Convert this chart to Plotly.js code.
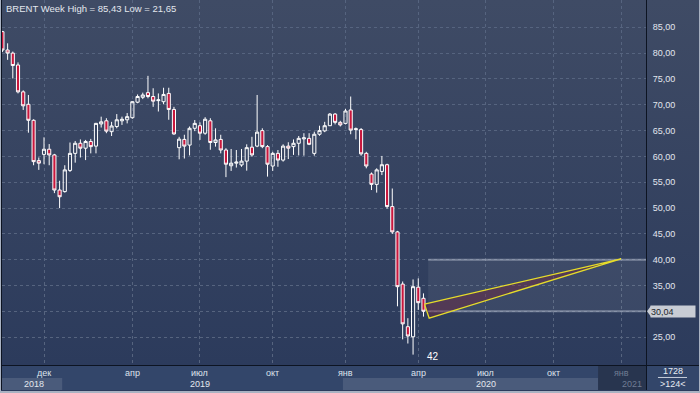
<!DOCTYPE html>
<html><head><meta charset="utf-8">
<script src="https://cdn.plot.ly/plotly-3.0.1.min.js"></script>
<style>
html,body{margin:0;padding:0;width:700px;height:393px;overflow:hidden;background:#a9b2c2;}
#chart{position:absolute;left:1px;top:0;width:698px;height:391px;background:linear-gradient(to bottom,#3f4b65 0%,#2c3b5c 93%,#2c3b5c 100%);}
</style></head><body><div id="chart"></div>
<script>
// ---- data (weekly BRENT candles) ----
const openP  = [84.15,80.6,80.0,77.7,72.5,70.1,67.0,59.2,60.4,61.4, 60.3,53.5,53.2,57.3,60.6,62.55,61.6,62.9,62.0,66.3, 66.9,64.8,65.8,66.9,67.1,67.5,70.5,71.45,72.35,71.6, 70.8,70.6,72.2,69.1,61.7,63.3,62.2,65.45,65.95,64.5, 66.9,62.7,63.3,61.25,58.2,58.7,58.35,59.1,61.8,62.0, 65.0,61.9,58.15,60.6,59.3,62.0,61.9,62.55,63.4,63.5, 60.6,64.3,64.95,65.95,68.2,66.6,66.4,69.0,65.2,65.2, 60.6,56.6,54.6,57.1,58.4,50.3,45.4,35.3,27.05,25.1, 34.7,32.55];
const highP  = [84.3,81.9,80.3,78.2,72.8,71.9,67.2,59.8,63.7,62.4, 60.5,55.3,58.3,62.7,63.0,63.3,63.2,63.4,66.5,67.7, 67.4,66.7,68.2,67.7,68.4,70.7,72.0,72.35,75.6,73.2, 72.2,73.3,73.3,69.6,63.8,64.2,65.8,67.05,66.6,67.6, 67.4,65.45,64.2,61.6,61.45,61.25,61.45,62.35,63.8,71.9, 65.45,62.2,60.9,61.25,62.35,62.75,63.3,63.96,64.5,64.5, 64.8,65.95,66.7,68.4,68.4,66.9,69.2,71.6,65.6,65.5, 60.9,56.9,57.7,60.1,58.6,53.8,45.6,35.8,28.7,36.2, 36.4,33.5];
const lowP   = [80.2,78.7,75.1,72.2,69.0,64.6,58.3,57.4,58.5,58.3, 52.9,50.0,53.0,57.0,58.8,59.8,59.3,60.6,60.6,65.6, 64.5,63.96,65.45,66.1,66.4,67.3,70.3,71.1,71.25,69.6, 68.7,70.1,67.1,64.2,59.45,59.6,60.2,64.9,63.2,64.2, 61.3,61.9,60.6,56.0,57.2,57.85,58.0,57.25,59.95,61.8, 61.6,56.1,57.2,58.0,59.0,59.5,60.3,60.2,60.15,62.2, 60.15,64.0,64.7,65.9,66.2,65.8,66.2,64.3,63.3,60.15, 57.7,53.5,53.0,56.4,49.9,45.0,31.0,24.6,23.8,21.65, 30.3,29.0];
const closeP = [80.6,80.0,77.6,72.5,69.8,67.0,59.0,58.7,61.4,60.3, 53.5,52.2,57.4,60.6,62.55,61.6,62.9,61.9,66.4,66.7, 64.9,65.9,67.1,67.2,67.7,70.6,71.6,71.9,71.6,70.7, 70.95,72.0,69.1,64.35,63.35,62.0,65.45,66.4,64.5,67.2, 62.7,63.2,61.25,58.5,58.7,58.9,59.1,61.7,60.3,64.7, 61.9,58.5,60.6,59.3,62.0,61.6,62.55,63.5,63.6,62.35, 64.3,65.0,65.95,68.2,66.6,66.1,68.8,65.1,65.35,60.5, 58.15,54.6,57.4,58.4,50.3,45.4,34.8,27.6,25.25,34.8, 31.7,30.04];

const priceTicks = [25,30,35,40,45,50,55,60,65,70,75,80,85];
const monthTickIdx = [9,26,39,53,67,81,94,107,120];
const monthLabels = ['дек','апр','июл','окт','янв','апр','июл','окт','янв'];
const yearLabels = ['2018','2019','2020','2021'];
const yearLabelIdx = [7,39,94,124.4];
const yearBandStart = [0.92,12.5,66.5,115.6];

const titleText = 'BRENT Week High = 85,43 Low = 21,65';
const lastClose = 30.04;
const zoneTop = 40;
const zoneStartIdx = 82.9;
const wedgeIdx = [82.2,83.1,120.0];
const wedgePrice = [31.4,28.7,40.2];
const barCountLabel = '42';
const barCountPos = [83.8,21.2];
const panelTexts = ['1728','>124<'];

// ---- chart ----
const FONT = 'Liberation Sans, Arial, sans-serif';
const xRange = [0.92,124.81];
const weekIdx = openP.map((_, k) => k + 1);
const GRID = '#56647f';
const STRIP = '#33466a';
const LINE = '#0d1422';
const fmt = v => v.toFixed(2).replace('.', ',');
// the 30,00 label sits under the last-price tag, as in the picture
const tickText = priceTicks.map(v => Math.abs(v - lastClose) < 2 ? '' : fmt(v));

const candles = {
  type:'candlestick', x: weekIdx, open: openP, high: highP, low: lowP, close: closeP,
  xaxis:'x', yaxis:'y', whiskerwidth:0, hoverinfo:'skip',
  increasing:{line:{color:'#ffffff',width:1}, fillcolor:'rgba(0,0,0,0)'},
  decreasing:{line:{color:'#ffffff',width:1}, fillcolor:'#c8173d'}
};
const wedge = {
  type:'scatter', mode:'lines', x: wedgeIdx.concat([wedgeIdx[0]]), y: wedgePrice.concat([wedgePrice[0]]),
  fill:'toself', fillcolor:'rgba(110,40,65,0.45)', line:{color:'#e6dc2a',width:1.3},
  xaxis:'x', yaxis:'y', hoverinfo:'skip'
};

const shapes = [];
shapes.push({type:'rect', xref:'x2', yref:'y2', x0:xRange[0], x1:xRange[1], y0:0, y1:2, fillcolor:STRIP, line:{width:0}, layer:'below'});
yearBandStart.forEach((s, k) => {
  const e = k + 1 < yearBandStart.length ? yearBandStart[k+1] : xRange[1];
  if (k === yearBandStart.length - 1) {
    shapes.push({type:'rect', xref:'x2', yref:'y2', x0:s, x1:e, y0:0, y1:2, fillcolor:'#28354f', line:{width:0}, layer:'below'});
  } else if (k % 2 === 0) {
    shapes.push({type:'rect', xref:'x2', yref:'y2', x0:s, x1:e, y0:0, y1:1, fillcolor:'#4a5b7b', line:{width:0}, layer:'below'});
  }
});
shapes.push({type:'rect', xref:'x', yref:'y', x0:zoneStartIdx, x1:xRange[1], y0:lastClose, y1:zoneTop, fillcolor:'rgba(255,255,255,0.06)', line:{width:0}, layer:'between'});
shapes.push({type:'line', xref:'x', yref:'y', x0:zoneStartIdx, x1:xRange[1], y0:zoneTop, y1:zoneTop, line:{color:'rgba(175,184,200,0.55)',width:2}, layer:'between'});
shapes.push({type:'line', xref:'x', yref:'y', x0:zoneStartIdx, x1:xRange[1], y0:lastClose, y1:lastClose, line:{color:'rgba(175,184,200,0.55)',width:2}, layer:'between'});
shapes.push({type:'rect', xref:'paper', yref:'paper', x0:1, x1:1.0823, y0:0, y1:0.0628, fillcolor:STRIP, line:{width:0}, layer:'below'});
shapes.push({type:'line', xref:'paper', yref:'paper', x0:1, x1:1.0823, y0:0.0628, y1:0.0628, line:{color:LINE,width:1}});
shapes.push({type:'line', xref:'paper', yref:'paper', x0:1.0186, x1:1.0637, y0:0.0321, y1:0.0321, line:{color:'#c8ceda',width:1}});
shapes.push({type:'path', xref:'paper', yref:'y', xsizemode:'pixel', ysizemode:'pixel', xanchor:1, yanchor:lastClose,
  path:'M 1 0 L 5 5.5 L 5 -5.5 Z', fillcolor:'#c8ccd4', line:{width:0}});

const annotations = [];
annotations.push({xref:'paper', yref:'paper', x:0.0031, y:0.979, xanchor:'left', yanchor:'middle', showarrow:false,
  text:titleText, font:{family:FONT,size:9.5,color:'#e3e7ee'}});
annotations.push({xref:'x', yref:'y', x:barCountPos[0], y:barCountPos[1], xanchor:'center', yanchor:'middle', showarrow:false, text:barCountLabel,
  font:{family:FONT,size:10,color:'#ffffff'}});
monthTickIdx.forEach((m, k) => annotations.push({xref:'x2', yref:'y2', x:m, y:1.45, xanchor:'center', yanchor:'middle', showarrow:false, text:monthLabels[k],
  font:{family:FONT,size:9,color: k === monthTickIdx.length-1 ? '#6f7c93' : '#dde3ec'}}));
yearLabels.forEach((t, k) => annotations.push({xref:'x2', yref:'y2', x:yearLabelIdx[k], y:0.5, yanchor:'middle', showarrow:false, text:t,
  xanchor: k === yearLabels.length-1 ? 'right' : 'center',
  font:{family:FONT,size:9,color: k === yearLabels.length-1 ? '#6f7c93' : '#e3e7ee'}}));
annotations.push({xref:'paper', yref:'paper', x:1.0419, y:0.0487, xanchor:'center', yanchor:'middle', showarrow:false, text:panelTexts[0], font:{family:FONT,size:9,color:'#e8ecf2'}});
annotations.push({xref:'paper', yref:'paper', x:1.0419, y:0.0154, xanchor:'center', yanchor:'middle', showarrow:false, text:panelTexts[1], font:{family:FONT,size:9,color:'#e8ecf2'}});
annotations.push({xref:'paper', yref:'y', x:1.0062, y:lastClose, xanchor:'left', yanchor:'middle', showarrow:false,
  text: fmt(lastClose), width:44, height:11, align:'left', bgcolor:'#c8ccd4', borderpad:0,
  font:{family:FONT,size:9,color:'#1b1f2a'}});

const layout = {
  width:698, height:391, margin:{l:1,r:53,t:0,b:1},
  paper_bgcolor:'rgba(0,0,0,0)', plot_bgcolor:'rgba(0,0,0,0)',
  separators:', ', showlegend:false, boxgap:0.4, boxgroupgap:0,
  font:{family:FONT,size:9,color:'#e2e6ee'},
  xaxis:{range:xRange, anchor:'y', tickvals:monthTickIdx, showticklabels:false, ticks:'',
    showgrid:true, gridcolor:GRID, griddash:'3px,3px', gridwidth:1, zeroline:false,
    showline:true, linecolor:LINE, linewidth:1, rangeslider:{visible:false}, fixedrange:true},
  yaxis:{domain:[0.0641,1], range:[19.64,90.28], side:'right', tickvals:priceTicks, ticktext:tickText,
    tickfont:{family:FONT,size:9,color:'#e2e6ee'}, ticks:'', ticklabelstandoff:4,
    showgrid:true, gridcolor:GRID, griddash:'3px,3px', gridwidth:1, zeroline:false,
    showline:true, mirror:true, linecolor:LINE, linewidth:1, fixedrange:true},
  xaxis2:{matches:'x', anchor:'y2', showgrid:false, showticklabels:false, ticks:'', zeroline:false, showline:false},
  yaxis2:{domain:[0,0.0615], range:[0,2], side:'right', showgrid:false, showticklabels:false, ticks:'', zeroline:false,
    showline:true, mirror:true, linecolor:LINE, linewidth:1},
  shapes:shapes, annotations:annotations
};

Plotly.newPlot('chart', [candles, wedge], layout, {displayModeBar:false, staticPlot:true});
</script></body></html>
